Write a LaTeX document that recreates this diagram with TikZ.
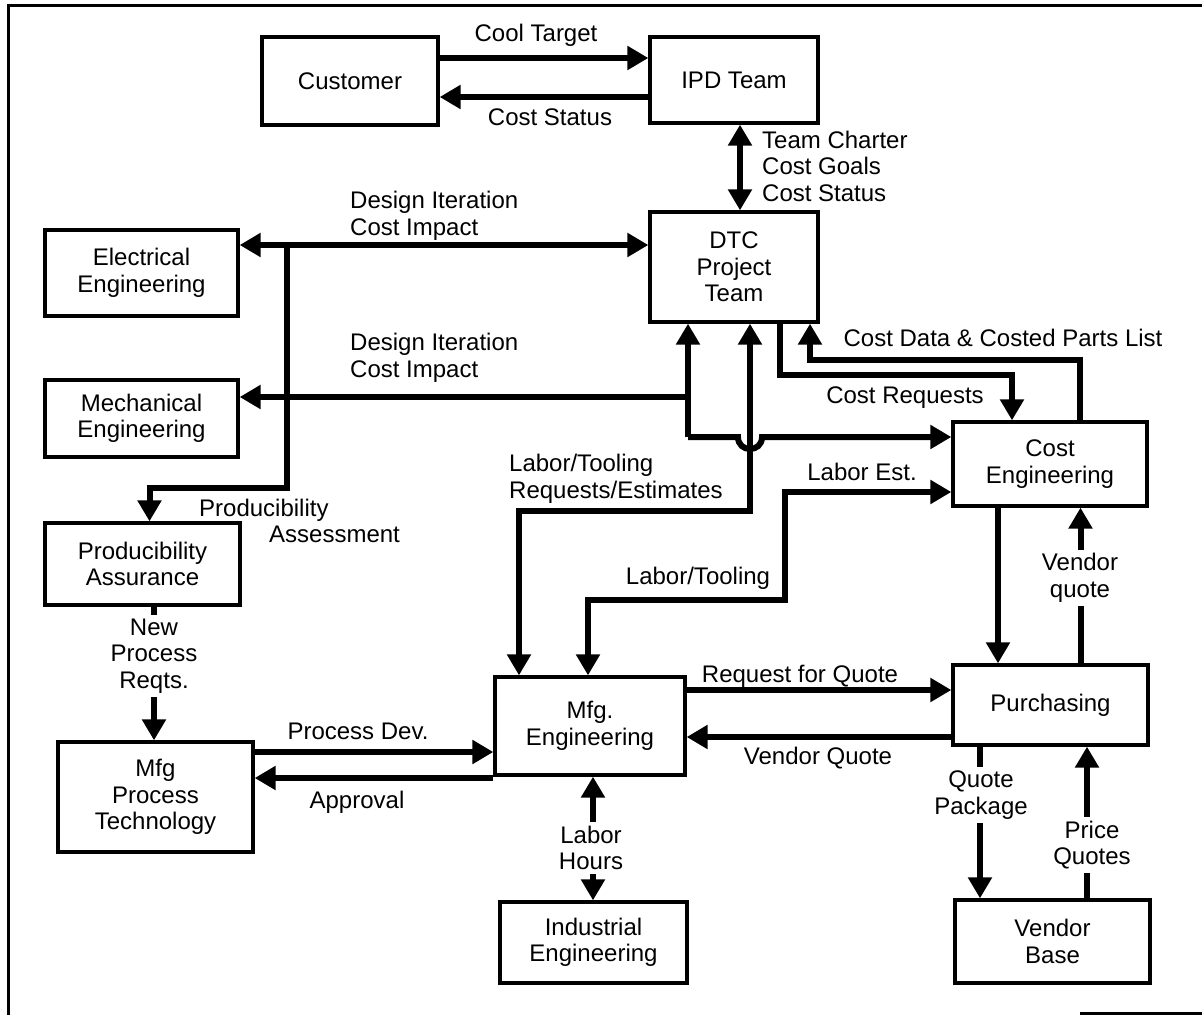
\documentclass[tikz,border=0pt]{standalone}
\usepackage{fontspec}
\setmainfont{Liberation Sans}
\usetikzlibrary{arrows.meta,calc}
\begin{document}
\begin{tikzpicture}[x=1pt,y=-1pt,
  every node/.style={font=\fontsize{24}{26.5}\selectfont, inner sep=0pt},
  box/.style={draw, line width=3.3pt, align=center},
  lbl/.style={align=center},
  gaplbl/.style={align=center, fill=white, inner sep=4pt},
  arr/.style={line width=6pt, -{Triangle[width=23pt,length=21pt]}},
  arrr/.style={line width=6pt, {Triangle[width=23pt,length=21pt]}-{Triangle[width=23pt,length=21pt]}},
  frame/.style={line width=3pt}]
\useasboundingbox (0,0) rectangle (1202,1015);
% frame
\draw[frame] (7,5) -- (1202,5);
\draw[frame] (8,5) -- (8,1015);
\draw[frame] (1080,1013) -- (1202,1013);
% boxes
\node[box, minimum width=176pt, minimum height=88pt] (cust) at (350,81) {Customer};
\node[box, minimum width=168pt, minimum height=86pt] (ipd) at (734,80) {IPD Team};
\node[box, minimum width=168pt, minimum height=110pt] (dtc) at (734,267) {DTC\\Project\\Team};
\node[box, minimum width=193pt, minimum height=86pt] (elec) at (141.5,273) {Electrical\\Engineering};
\node[box, minimum width=193pt, minimum height=77pt] (mech) at (141.5,418.5) {Mechanical\\Engineering};
\node[box, minimum width=195pt, minimum height=82pt] (prod) at (142.5,564) {Producibility\\Assurance};
\node[box, minimum width=195pt, minimum height=110pt] (mpt) at (155.5,797) {Mfg\\Process\\Technology};
\node[box, minimum width=190pt, minimum height=98pt] (mfg) at (590,726) {Mfg.\\Engineering};
\node[box, minimum width=187pt, minimum height=81pt] (ind) at (593.5,942.5) {Industrial\\Engineering};
\node[box, minimum width=194pt, minimum height=84pt] (cost) at (1050,464) {Cost\\Engineering};
\node[box, minimum width=195pt, minimum height=80pt] (purch) at (1050.5,705) {Purchasing};
\node[box, minimum width=195pt, minimum height=83pt] (vend) at (1052.5,941.5) {Vendor\\Base};
% junction coordinates
\coordinate (j1) at (287,245);
\coordinate (j2) at (688,437);
\coordinate (j3) at (688,397);
% connectors
\draw[arr] ($(cust.east)+(0,-23)$) coordinate (a1) -- (ipd.west |- a1);
\draw[arr] ($(ipd.west)+(0,17)$) coordinate (a2) -- (cust.east |- a2);
\draw[arrr] ($(ipd.south)+(6,0)$) coordinate (a3) -- (dtc.north -| a3);
\draw[arrr] ($(elec.east)+(0,-28)$) coordinate (a4) -- (dtc.west |- a4);
\draw[arr] (j1) |- ($(prod.north)+(7,-33)$) -- ($(prod.north)+(7,0)$);
\draw[arr] (j2) -- (dtc.south -| j2);
\draw[arr] (j3) -- (mech.east |- j3);
\draw[arr] (j2) -- (738,437) .. controls (738,453) and (762,453) .. (762,437) -- (cost.west |- j2);
\draw[arrr] ($(dtc.south)+(16,0)$) |- ($(mfg.north)+(-71,-164)$) -- ($(mfg.north)+(-71,0)$);
\draw[arr] ($(dtc.south)+(46,0)$) |- ($(cost.north)+(-38,-45)$) -- ($(cost.north)+(-38,0)$);
\draw[arr] ($(cost.north)+(30,0)$) |- ($(dtc.south)+(76,36)$) -- ($(dtc.south)+(76,0)$);
\draw[arrr] ($(cost.west)+(0,28)$) -| (785,600) -| ($(mfg.north)+(-2,0)$);
\draw[arr] ($(cost.south)+(-52,0)$) coordinate (a11) -- (purch.north -| a11);
\draw[arr] ($(purch.north)+(30,0)$) coordinate (a12) -- (cost.south -| a12);
\draw[arr] ($(mfg.east)+(0,-36)$) coordinate (a13) -- (purch.west |- a13);
\draw[arr] ($(purch.west)+(0,32)$) coordinate (a14) -- (mfg.east |- a14);
\draw[arr] ($(mpt.east)+(0,-45)$) coordinate (a15) -- (mfg.west |- a15);
\draw[arr] ($(mfg.west)+(0,52)$) coordinate (a16) -- (mpt.east |- a16);
\draw[arr] ($(prod.south)+(11.5,0)$) coordinate (a17) -- (mpt.north -| a17);
\draw[arrr] ($(mfg.south)+(3,0)$) coordinate (a18) -- (ind.north -| a18);
\draw[arr] ($(purch.south)+(-70.5,0)$) coordinate (a19) -- (vend.north -| a19);
\draw[arr] ($(vend.north)+(34.5,0)$) coordinate (a20) -- (purch.south -| a20);
% labels
\node[lbl] (l1) at (536,35) {Cool Target};
\node[lbl] (l2) at (550,117) {Cost Status};
\node[lbl, anchor=west, align=left] (l3) at (762,166) {Team Charter\\Cost Goals\\Cost Status};
\node[lbl, anchor=west, align=left] (l4) at (350,216) {Design Iteration\\Cost Impact};
\node[lbl, anchor=west, align=left] (l5) at (350,358) {Design Iteration\\Cost Impact};
\node[lbl, anchor=west, align=left] (l6) at (199,521) {Producibility\\\hspace*{70pt}Assessment};
\node[lbl, anchor=west, align=left] (l7) at (509,479) {Labor/Tooling\\Requests/Estimates};
\node[lbl] (l8) at (905,398) {Cost Requests};
\node[lbl] (l9) at (1003,338) {Cost Data \& Costed Parts List};
\node[lbl] (l10) at (862,472) {Labor Est.};
\node[lbl] (l11) at (698,578) {Labor/Tooling};
\node[gaplbl] (l12) at (1080,578) {Vendor\\quote};
\node[lbl] (l13) at (800,676) {Request for Quote};
\node[lbl] (l14) at (818,758) {Vendor Quote};
\node[lbl] (l15) at (358,731) {Process Dev.};
\node[lbl] (l16) at (357,802) {Approval};
\node[gaplbl] (l17) at (154,656) {New\\Process\\Reqts.};
\node[gaplbl] (l18) at (591,848) {Labor\\Hours};
\node[gaplbl] (l19) at (981,795) {Quote\\Package};
\node[gaplbl] (l20) at (1092,845) {Price\\Quotes};
\end{tikzpicture}
\end{document}
